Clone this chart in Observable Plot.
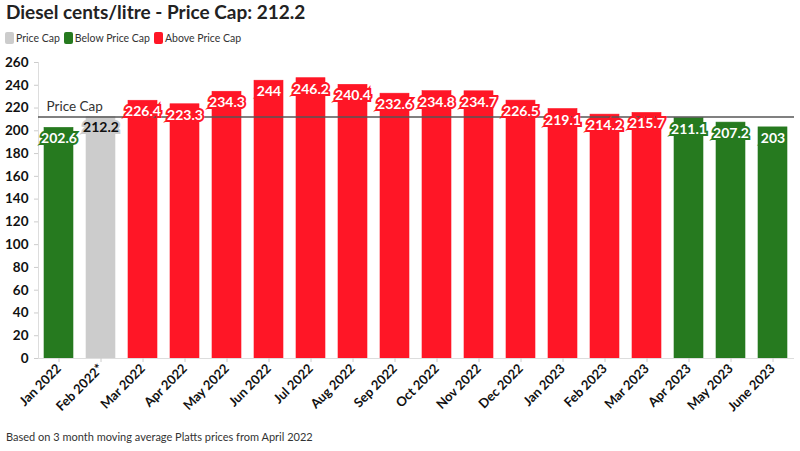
<!DOCTYPE html>
<html>
<head>
<meta charset="utf-8">
<script src="https://cdn.jsdelivr.net/npm/d3@7"></script>
<script src="https://cdn.jsdelivr.net/npm/@observablehq/plot@0.6"></script>
<style>
  body { margin: 0; background: #fff; font-family: Lato, "Open Sans", sans-serif; width: 800px; height: 451px; overflow: hidden; position: relative; }
  #title { position: absolute; left: 6px; top: 0px; font-size: 19px; font-weight: 700; color: #222; }
  #legend { position: absolute; left: 5px; top: 32px; font-size: 10.5px; color: #333; display: flex; gap: 4px; }
  #legend span.sw { display: inline-block; width: 9px; height: 12px; border-radius: 2px; margin-right: 2px; vertical-align: -2px; }
  #chart { position: absolute; left: 0; top: 50px; }
  #caption { position: absolute; left: 6px; top: 430px; font-size: 11px; color: #333; }
</style>
</head>
<body>
<div id="title">Diesel cents/litre - Price Cap: 212.2</div>
<div id="legend"></div>
<div id="chart"></div>
<div id="caption">Based on 3 month moving average Platts prices from April 2022</div>
<script>
const months = ["Jan 2022","Feb 2022*","Mar 2022","Apr 2022","May 2022","Jun 2022","Jul 2022","Aug 2022","Sep 2022","Oct 2022","Nov 2022","Dec 2022","Jan 2023","Feb 2023","Mar 2023","Apr 2023","May 2023","June 2023"];
const prices = [202.6,212.2,226.4,223.3,234.3,244,246.2,240.4,232.6,234.8,234.7,226.5,219.1,214.2,215.7,211.1,207.2,203];
const statuses = ["Below Price Cap","Price Cap","Above Price Cap","Above Price Cap","Above Price Cap","Above Price Cap","Above Price Cap","Above Price Cap","Above Price Cap","Above Price Cap","Above Price Cap","Above Price Cap","Above Price Cap","Above Price Cap","Above Price Cap","Below Price Cap","Below Price Cap","Below Price Cap"];
const priceCap = 212.2;
const yTicks = [0,20,40,60,80,100,120,140,160,180,200,220,240,260];
const legendNames = ["Price Cap","Below Price Cap","Above Price Cap"];
const legendColors = ["#cccccc","#267a1f","#ff1626"];

const data = months.map((m, i) => ({month: m, price: prices[i], status: statuses[i]}));
const colorOf = Object.fromEntries(legendNames.map((n, i) => [n, legendColors[i]]));

const legend = document.getElementById("legend");
legendNames.forEach((n, i) => {
  const d = document.createElement("div");
  d.innerHTML = `<span class="sw" style="background:${legendColors[i]}"></span>${n}`;
  legend.appendChild(d);
});

const chart = Plot.plot({
  width: 800,
  height: 375,
  marginTop: 12,
  marginLeft: 38,
  marginRight: 6,
  marginBottom: 67,
  style: {fontFamily: "Lato, sans-serif", background: "white"},
  x: {domain: months, paddingInner: 0.3, paddingOuter: 0.15, label: null},
  y: {domain: [0, 260], label: null},
  color: {domain: legendNames, range: legendColors},
  marks: [
    Plot.barY(data, {x: "month", y: "price", fill: "status", stroke: "status", strokeOpacity: 1, strokeWidth: 0.6}),
    Plot.ruleY([0], {stroke: "#ddd", strokeWidth: 1}),
    Plot.frame({anchor: "left", stroke: "#ddd"}),
    Plot.axisY({ticks: yTicks, tickSize: 4, stroke: "#ccc", fontSize: 13.5, fontWeight: 700, fill: "#111", tickPadding: 6}),
    Plot.axisX({tickSize: 4, stroke: "#ccc", tickRotate: -45, fontSize: 13, fontWeight: 700, fill: "#111", tickPadding: 4}),
    Plot.ruleY([priceCap], {stroke: "#555", strokeWidth: 2, strokeOpacity: 0.75}),
    Plot.text([priceCap], {y: d => d, text: () => "Price Cap", frameAnchor: "left", textAnchor: "start", dx: 8, dy: -10, fontSize: 13.5, fill: "#333"}),
    Plot.text(data, {x: "month", y: "price", text: d => String(d.price), dy: 11, fontSize: 14, fontWeight: 700,
      fill: d => d.status === "Price Cap" ? "#111" : "#fff",
      stroke: d => colorOf[d.status], strokeWidth: 4, strokeLinejoin: "miter"})
  ]
});
document.getElementById("chart").appendChild(chart);
</script>
</body>
</html>
